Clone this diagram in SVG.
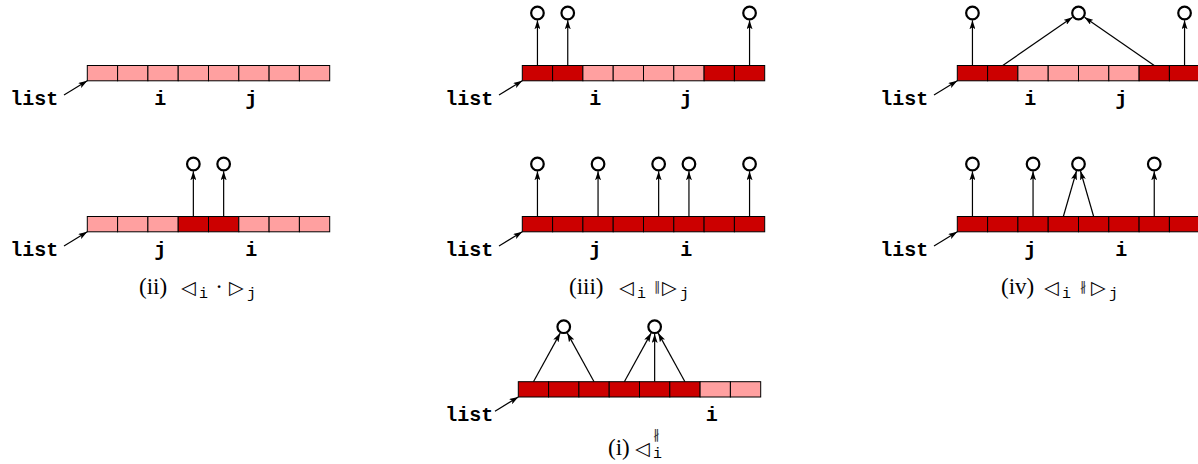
<svg xmlns="http://www.w3.org/2000/svg" width="1198" height="464" viewBox="0 0 1198 464">
<defs>
<style>
.p{fill:#ffa0a0;stroke:#000;stroke-width:1}
.r{fill:#cc0000;stroke:#000;stroke-width:1}
.c{fill:#fff;stroke:#000;stroke-width:2.2}
.a{stroke:#000;stroke-width:1.2;fill:none;marker-end:url(#ah)}
.tt{font-family:"Liberation Mono","DejaVu Sans Mono",monospace;font-size:20px;font-weight:bold;fill:#000}
.lb{text-anchor:middle}
.rm{font-family:"Liberation Serif",serif;font-size:23px;fill:#000}
.sy{font-family:"DejaVu Sans",sans-serif;font-size:19px;fill:#000}
.sb{font-family:"Liberation Mono",monospace;font-size:15px;fill:#000}
.rel{font-family:"DejaVu Sans",sans-serif;font-size:13px;fill:#333}
</style>
<marker id="ah" viewBox="0 0 9 6" markerWidth="9" markerHeight="6" refX="9" refY="3" orient="auto" markerUnits="userSpaceOnUse">
<path d="M0,0 L9,3 L0,6 L2,3 Z" fill="#000"/>
</marker>
</defs>

<!-- Panel 1: top-left -->
<g id="panel1" transform="translate(87.3,65.5)">
<rect class="p" x="0" y="0" width="30.3" height="15.3"/><rect class="p" x="30.3" y="0" width="30.3" height="15.3"/><rect class="p" x="60.6" y="0" width="30.3" height="15.3"/><rect class="p" x="90.9" y="0" width="30.3" height="15.3"/><rect class="p" x="121.2" y="0" width="30.3" height="15.3"/><rect class="p" x="151.5" y="0" width="30.3" height="15.3"/><rect class="p" x="181.8" y="0" width="30.3" height="15.3"/><rect class="p" x="212.1" y="0" width="30.3" height="15.3"/>
<text class="tt" x="-77" y="39">list</text>
<text class="tt lb" x="73" y="39">i</text>
<text class="tt lb" x="164" y="39">j</text>
</g>

<!-- Panel 2: top-middle -->
<g id="panel2" transform="translate(522.3,65.5)">
<rect class="r" x="0" y="0" width="30.3" height="15.3"/><rect class="r" x="30.3" y="0" width="30.3" height="15.3"/><rect class="p" x="60.6" y="0" width="30.3" height="15.3"/><rect class="p" x="90.9" y="0" width="30.3" height="15.3"/><rect class="p" x="121.2" y="0" width="30.3" height="15.3"/><rect class="p" x="151.5" y="0" width="30.3" height="15.3"/><rect class="r" x="181.8" y="0" width="30.3" height="15.3"/><rect class="r" x="212.1" y="0" width="30.3" height="15.3"/>
<circle class="c" cx="15.15" cy="-52.5" r="6.3"/><circle class="c" cx="45.45" cy="-52.5" r="6.3"/><circle class="c" cx="227.25" cy="-52.5" r="6.3"/>
<text class="tt" x="-77" y="39">list</text>
<text class="tt lb" x="73" y="39">i</text>
<text class="tt lb" x="164" y="39">j</text>
</g>

<!-- Panel 3: top-right -->
<g id="panel3" transform="translate(957.3,65.5)">
<rect class="r" x="0" y="0" width="30.3" height="15.3"/><rect class="r" x="30.3" y="0" width="30.3" height="15.3"/><rect class="p" x="60.6" y="0" width="30.3" height="15.3"/><rect class="p" x="90.9" y="0" width="30.3" height="15.3"/><rect class="p" x="121.2" y="0" width="30.3" height="15.3"/><rect class="p" x="151.5" y="0" width="30.3" height="15.3"/><rect class="r" x="181.8" y="0" width="30.3" height="15.3"/><rect class="r" x="212.1" y="0" width="30.3" height="15.3"/>
<circle class="c" cx="15.15" cy="-52.5" r="6.3"/><circle class="c" cx="121.2" cy="-52.5" r="6.3"/><circle class="c" cx="227.25" cy="-52.5" r="6.3"/>
<text class="tt" x="-77" y="39">list</text>
<text class="tt lb" x="73" y="39">i</text>
<text class="tt lb" x="164" y="39">j</text>
</g>

<!-- Panel 4: middle-left (ii) -->
<g id="panel4" transform="translate(87.3,216.5)">
<rect class="p" x="0" y="0" width="30.3" height="15.3"/><rect class="p" x="30.3" y="0" width="30.3" height="15.3"/><rect class="p" x="60.6" y="0" width="30.3" height="15.3"/><rect class="r" x="90.9" y="0" width="30.3" height="15.3"/><rect class="r" x="121.2" y="0" width="30.3" height="15.3"/><rect class="p" x="151.5" y="0" width="30.3" height="15.3"/><rect class="p" x="181.8" y="0" width="30.3" height="15.3"/><rect class="p" x="212.1" y="0" width="30.3" height="15.3"/>
<circle class="c" cx="106.05" cy="-52.5" r="6.3"/><circle class="c" cx="136.35" cy="-52.5" r="6.3"/>
<text class="tt" x="-77" y="39">list</text>
<text class="tt lb" x="73" y="39">j</text>
<text class="tt lb" x="164" y="39">i</text>
</g>
<g id="caption-ii">
<text class="rm" x="139" y="294">(ii)</text>
<text class="sy" x="181" y="294">◁</text>
<text class="sb" x="199" y="298">i</text>
<text class="rm" x="219" y="294" text-anchor="middle">·</text>
<text class="sy" x="229" y="294">▷</text>
<text class="sb" x="247" y="298">j</text>
</g>

<!-- Panel 5: middle-middle (iii) -->
<g id="panel5" transform="translate(522.3,216.5)">
<rect class="r" x="0" y="0" width="30.3" height="15.3"/><rect class="r" x="30.3" y="0" width="30.3" height="15.3"/><rect class="r" x="60.6" y="0" width="30.3" height="15.3"/><rect class="r" x="90.9" y="0" width="30.3" height="15.3"/><rect class="r" x="121.2" y="0" width="30.3" height="15.3"/><rect class="r" x="151.5" y="0" width="30.3" height="15.3"/><rect class="r" x="181.8" y="0" width="30.3" height="15.3"/><rect class="r" x="212.1" y="0" width="30.3" height="15.3"/>
<circle class="c" cx="15.15" cy="-52.5" r="6.3"/><circle class="c" cx="75.75" cy="-52.5" r="6.3"/><circle class="c" cx="136.35" cy="-52.5" r="6.3"/><circle class="c" cx="166.65" cy="-52.5" r="6.3"/><circle class="c" cx="227.25" cy="-52.5" r="6.3"/>
<text class="tt" x="-77" y="39">list</text>
<text class="tt lb" x="73" y="39">j</text>
<text class="tt lb" x="164" y="39">i</text>
</g>
<g id="caption-iii">
<text class="rm" x="569" y="294">(iii)</text>
<text class="sy" x="619" y="294">◁</text>
<text class="sb" x="637" y="298">i</text>
<text class="rel" x="657" y="291" text-anchor="middle">∥</text>
<text class="sy" x="662" y="294">▷</text>
<text class="sb" x="680" y="298">j</text>
</g>

<!-- Panel 6: middle-right (iv) -->
<g id="panel6" transform="translate(957.3,216.5)">
<rect class="r" x="0" y="0" width="30.3" height="15.3"/><rect class="r" x="30.3" y="0" width="30.3" height="15.3"/><rect class="r" x="60.6" y="0" width="30.3" height="15.3"/><rect class="r" x="90.9" y="0" width="30.3" height="15.3"/><rect class="r" x="121.2" y="0" width="30.3" height="15.3"/><rect class="r" x="151.5" y="0" width="30.3" height="15.3"/><rect class="r" x="181.8" y="0" width="30.3" height="15.3"/><rect class="r" x="212.1" y="0" width="30.3" height="15.3"/>
<circle class="c" cx="15.15" cy="-52.5" r="6.3"/><circle class="c" cx="75.75" cy="-52.5" r="6.3"/><circle class="c" cx="121.2" cy="-52.5" r="6.3"/><circle class="c" cx="196.95" cy="-52.5" r="6.3"/>
<text class="tt" x="-77" y="39">list</text>
<text class="tt lb" x="73" y="39">j</text>
<text class="tt lb" x="164" y="39">i</text>
</g>
<g id="caption-iv">
<text class="rm" x="1001" y="294">(iv)</text>
<text class="sy" x="1044" y="294">◁</text>
<text class="sb" x="1062" y="298">i</text>
<text class="rel" x="1083" y="291" text-anchor="middle">∦</text>
<text class="sy" x="1091" y="294">▷</text>
<text class="sb" x="1109" y="298">j</text>
</g>

<!-- Panel 7: bottom (i) -->
<g id="panel7" transform="translate(518.3,381.7)">
<rect class="r" x="0" y="0" width="30.3" height="15.3"/><rect class="r" x="30.3" y="0" width="30.3" height="15.3"/><rect class="r" x="60.6" y="0" width="30.3" height="15.3"/><rect class="r" x="90.9" y="0" width="30.3" height="15.3"/><rect class="r" x="121.2" y="0" width="30.3" height="15.3"/><rect class="r" x="151.5" y="0" width="30.3" height="15.3"/><rect class="p" x="181.8" y="0" width="30.3" height="15.3"/><rect class="p" x="212.1" y="0" width="30.3" height="15.3"/>
<circle class="c" cx="45.45" cy="-55" r="6.3"/><circle class="c" cx="136.35" cy="-55" r="6.3"/>
<text class="tt" x="-73" y="39">list</text>
<text class="tt lb" x="193.4" y="39">i</text>
</g>
<g id="caption-i">
<text class="rm" x="608" y="455">(i)</text>
<text class="sy" x="635" y="455">◁</text>
<text class="sb" x="653" y="458">i</text>
<text class="rel" x="653" y="439">∦</text>
</g>

<!-- Connectors -->
<g id="connectors">
<g transform="translate(87.3,65.5)">
<line class="a" x1="-23.3" y1="29.5" x2="0" y2="15.3"/>
</g>
<g transform="translate(522.3,65.5)">
<line class="a" x1="-23.3" y1="29.5" x2="0" y2="15.3"/>
<line class="a" x1="15.15" y1="0" x2="15.15" y2="-45.2"/>
<line class="a" x1="45.45" y1="0" x2="45.45" y2="-45.2"/>
<line class="a" x1="227.25" y1="0" x2="227.25" y2="-45.2"/>
</g>
<g transform="translate(957.3,65.5)">
<line class="a" x1="-23.3" y1="29.5" x2="0" y2="15.3"/>
<line class="a" x1="15.15" y1="0" x2="15.15" y2="-45.2"/>
<line class="a" x1="45.45" y1="0" x2="115.2" y2="-48.3"/>
<line class="a" x1="196.95" y1="0" x2="127.2" y2="-48.3"/>
<line class="a" x1="227.25" y1="0" x2="227.25" y2="-45.2"/>
</g>
<g transform="translate(87.3,216.5)">
<line class="a" x1="-23.3" y1="29.5" x2="0" y2="15.3"/>
<line class="a" x1="106.05" y1="0" x2="106.05" y2="-45.2"/>
<line class="a" x1="136.35" y1="0" x2="136.35" y2="-45.2"/>
</g>
<g transform="translate(522.3,216.5)">
<line class="a" x1="-23.3" y1="29.5" x2="0" y2="15.3"/>
<line class="a" x1="15.15" y1="0" x2="15.15" y2="-45.2"/>
<line class="a" x1="75.75" y1="0" x2="75.75" y2="-45.2"/>
<line class="a" x1="136.35" y1="0" x2="136.35" y2="-45.2"/>
<line class="a" x1="166.65" y1="0" x2="166.65" y2="-45.2"/>
<line class="a" x1="227.25" y1="0" x2="227.25" y2="-45.2"/>
</g>
<g transform="translate(957.3,216.5)">
<line class="a" x1="-23.3" y1="29.5" x2="0" y2="15.3"/>
<line class="a" x1="15.15" y1="0" x2="15.15" y2="-45.2"/>
<line class="a" x1="75.75" y1="0" x2="75.75" y2="-45.2"/>
<line class="a" x1="106.05" y1="0" x2="119.2" y2="-45.5"/>
<line class="a" x1="136.35" y1="0" x2="123.2" y2="-45.5"/>
<line class="a" x1="196.95" y1="0" x2="196.95" y2="-45.2"/>
</g>
<g transform="translate(518.3,381.7)">
<line class="a" x1="-23.3" y1="29.5" x2="0" y2="15.3"/>
<line class="a" x1="15.15" y1="0" x2="41.9" y2="-48.6"/>
<line class="a" x1="75.75" y1="0" x2="49" y2="-48.6"/>
<line class="a" x1="106.05" y1="0" x2="132.8" y2="-48.6"/>
<line class="a" x1="136.35" y1="0" x2="136.35" y2="-47.7"/>
<line class="a" x1="166.65" y1="0" x2="139.9" y2="-48.6"/>
</g>
</g>
</svg>
